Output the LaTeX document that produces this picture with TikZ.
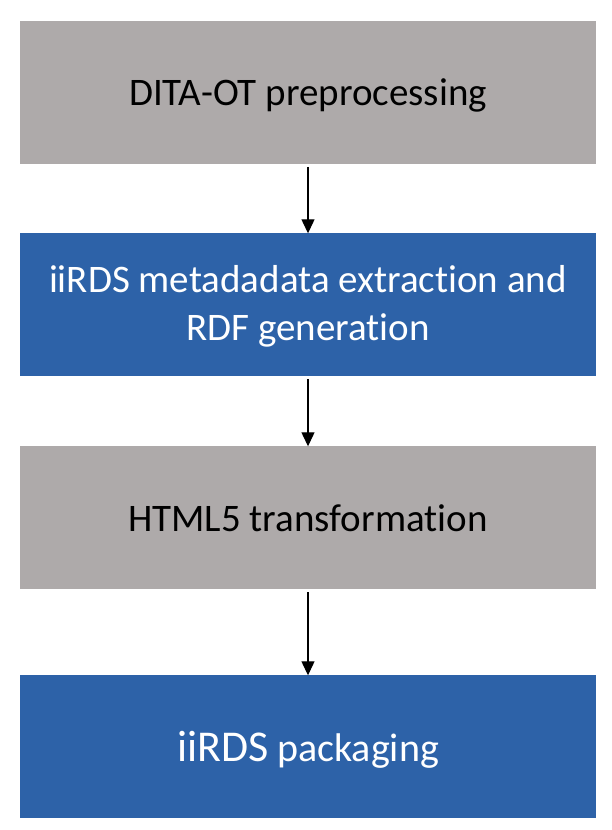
\documentclass[tikz,border=0pt]{standalone}
\usepackage{fontspec}
\setmainfont{Carlito}[Ligatures=NoCommon]
\usepackage{xcolor}
\usetikzlibrary{arrows.meta, positioning}

\definecolor{stepgray}{HTML}{AEAAAA}
\definecolor{stepblue}{HTML}{2D62A8}

\begin{document}
\begin{tikzpicture}[x=1pt, y=-1pt, >=Stealth,
    stepbox/.style={rectangle, minimum width=576pt, minimum height=143pt,
      inner sep=0pt, outer sep=0pt, align=center,
      font=\fontsize{39}{48}\selectfont},
    graybox/.style={stepbox, fill=stepgray, text=black, text depth=0pt},
    bluebox/.style={stepbox, fill=stepblue, text=white},
    flow/.style={-{Triangle[width=13pt, length=14pt]}, line width=1.2pt, shorten <=3pt}]
  \useasboundingbox (0,0) rectangle (612,830);
  % the four processing steps
  \node[graybox] (prep) at (308,92.3) {DITA-OT preprocessing};
  \node[bluebox, text depth=4pt] (meta) at (308,304.8) {iiRDS metadadata extraction and\\RDF generation};
  \node[graybox] (html) at (308,517.8) {HTML5 transformation};
  \node[bluebox, text depth=0pt] (pack) at (308,746.8)
    {{\fontsize{44}{48}\selectfont iiRDS} {\fontsize{40}{48}\selectfont packaging}};
  % arrows between steps
  \draw[flow] (prep) -- (meta);
  \draw[flow] (meta) -- (html);
  \draw[flow] (html) -- (pack);
\end{tikzpicture}
\end{document}
